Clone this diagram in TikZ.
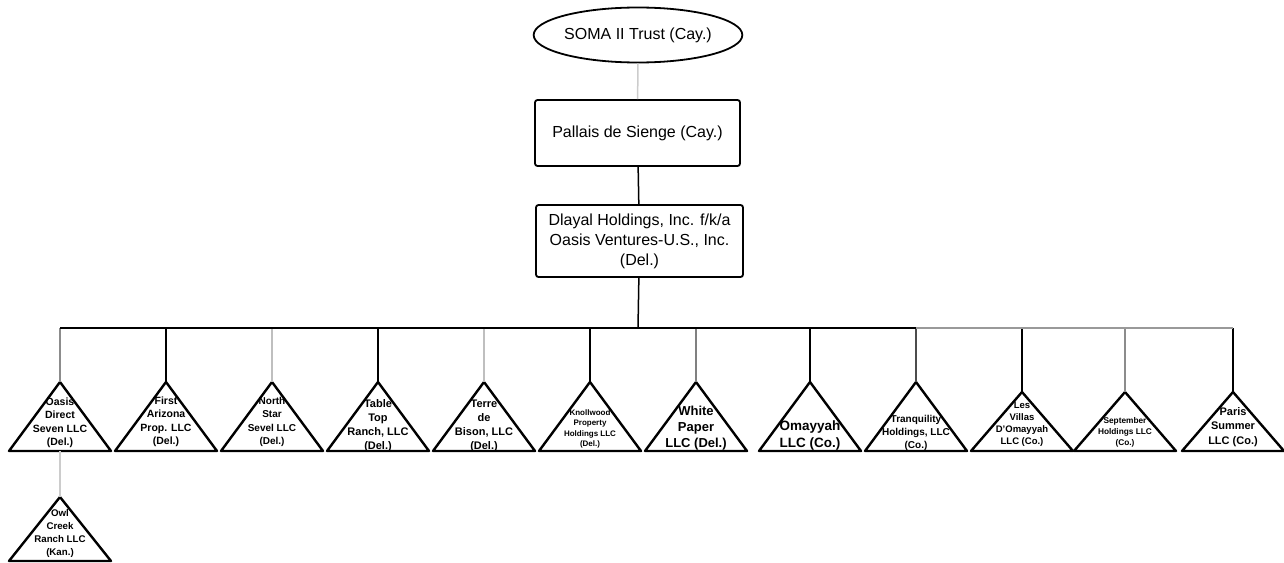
\documentclass[tikz,border=0pt]{standalone}
\usepackage{fontspec}
\setmainfont{Liberation Sans}
\usetikzlibrary{shapes.geometric, positioning}

\begin{document}
\begin{tikzpicture}
[x=1pt, y=-1pt,
 link/.style={line width=1.5pt},
 trust/.style={ellipse, draw, line width=1.8pt, inner sep=0pt, font=\fontsize{16}{20}\selectfont},
 co/.style={draw, line width=1.8pt, rounded corners=2.5pt, inner sep=0pt, align=center, font=\fontsize{16}{20}\selectfont},
 ent/.style={draw, line width=2.4pt, line join=round},
 entxt/.style={align=center, inner sep=0pt}]
\useasboundingbox (0,0) rectangle (1284,562);

\node [trust, minimum width=194pt, minimum height=55pt] (soma) at (638,35) {SOMA II Trust (Cay.)};
\node [co, minimum width=205pt, minimum height=66pt] (pallais) at (637.5,133) {Pallais de Sienge (Cay.)};
\node [co, minimum width=207pt, minimum height=72pt] (dlayal) at (639.5,241) {Dlayal Holdings, Inc. f/k/a\\Oasis Ventures-U.S., Inc.\\(Del.)};
\coordinate (bus) at (638,328);

\draw [link, black!20] (soma) to (pallais);
\draw [link] (pallais) to (dlayal);
\draw [link] (dlayal) to (bus);

% subsidiaries
\foreach \x/\ya/\ty/\fs/\ls/\col/\n/\txt in {
	60/382/423/10.5/13.5/black!45/oasis/{Oasis\\Direct\\Seven LLC\\(Del.)},
	166/382/422/10.5/13.5/black/first/{First\\Arizona\\Prop. LLC\\(Del.)},
	272/382/422/10/13.5/black!25/north/{North\\Star\\Sevel LLC\\(Del.)},
	378/382/426/11/14/black/table/{Table\\Top\\Ranch, LLC\\(Del.)},
	484/382/426/11/14/black!25/terre/{Terre\\de\\Bison, LLC\\(Del.)},
	590/382/429/8/10.5/black/knoll/{Knollwood\\Property\\Holdings LLC\\(Del.)},
	696/382/428/13/16/black!50/white/{White\\Paper\\LLC (Del.)},
	810/382/436/13.5/17/black/omay/{Omayyah\\LLC (Co.)},
	916/382/433/10/13/black!70/tranq/{Tranquility\\Holdings, LLC\\(Co.)},
	1022/392/424/9.5/12/black/villas/{Les\\Villas\\D'Omayyah\\LLC (Co.)},
	1125/392/432/8.3/11/black!45/sept/{September\\Holdings LLC\\(Co.)},
	1233/392/427/11/14.5/black/paris/{Paris\\Summer\\LLC (Co.)}}{
	\coordinate (\n-top) at (\x,\ya);
	\coordinate (\n-base) at (\x,451);
	\draw [ent] (\x-51,451) -- (\n-top) -- (\x+51,451) -- cycle;
	\node [entxt, font=\fontsize{\fs}{\ls}\selectfont\bfseries] (\n) at (\x,\ty) {\txt};
	\draw [link, \col] (\n-top |- bus) to (\n-top);
}
\draw [link] (oasis-top |- bus) to (tranq-top |- bus);
\draw [link, black!40] (tranq-top |- bus) to (paris-top |- bus);

\coordinate (owl-top) at (60,497);
\draw [ent] (9,561) -- (owl-top) -- (111,561) -- cycle;
\node [entxt, font=\fontsize{9.7}{13}\selectfont\bfseries] (owl) at (60,533) {Owl\\Creek\\Ranch LLC\\(Kan.)};
\draw [link, black!20] (oasis-base) to (owl-top);
\end{tikzpicture}
\end{document}
